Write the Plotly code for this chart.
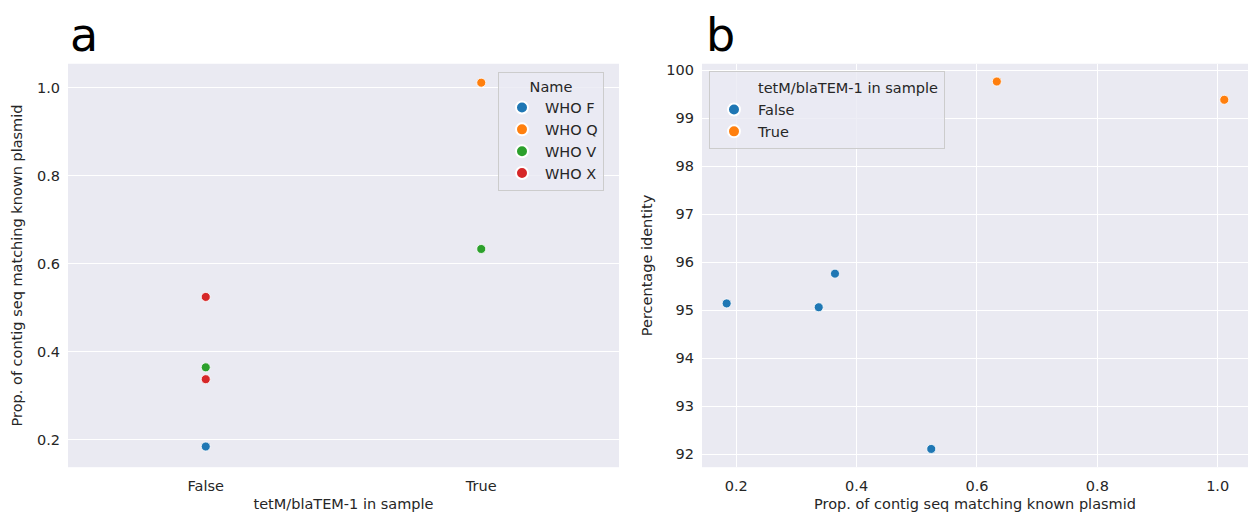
import plotly.graph_objects as go

# ---- data ----
names = ["WHO F", "WHO Q", "WHO V", "WHO V", "WHO X", "WHO X"]
in_sample = ["False", "True", "False", "True", "False", "False"]
prop = [0.184, 1.011, 0.364, 0.633, 0.337, 0.524]
identity = [95.14, 99.38, 95.76, 99.76, 95.06, 92.11]

name_order = ["WHO F", "WHO Q", "WHO V", "WHO X"]
sample_order = ["False", "True"]
palette = ["#1f77b4", "#ff7f0e", "#2ca02c", "#d62728"]

FONT = "DejaVu Sans"
BG = "#EAEAF2"
TXT = "#262626"
TICK = 14.5
TITLE = 14.5

fig = go.Figure()

# panel a: strip plot coloured by Name
for i, nm in enumerate(name_order):
    xs = [s for s, n in zip(in_sample, names) if n == nm]
    ys = [p for p, n in zip(prop, names) if n == nm]
    fig.add_trace(go.Scatter(
        x=xs, y=ys, mode="markers", name=nm,
        marker=dict(color=palette[i], size=9, line=dict(color="white", width=0.8)),
        xaxis="x", yaxis="y", legend="legend",
    ))

# panel b: scatter coloured by tetM/blaTEM-1 in sample
fig.add_trace(go.Scatter(
    x=[None], y=[None], mode="markers", name="tetM/blaTEM-1 in sample",
    marker=dict(color="rgba(0,0,0,0)", size=9),
    xaxis="x2", yaxis="y2", legend="legend2",
))
for i, s in enumerate(sample_order):
    xs = [p for p, v in zip(prop, in_sample) if v == s]
    ys = [d for d, v in zip(identity, in_sample) if v == s]
    fig.add_trace(go.Scatter(
        x=xs, y=ys, mode="markers", name=s,
        marker=dict(color=palette[i], size=9, line=dict(color="white", width=0.8)),
        xaxis="x2", yaxis="y2", legend="legend2",
    ))

W, H = 1250, 518
ydom = [1 - 467 / H, 1 - 62 / H]


def ax(**kw):
    d = dict(
        showgrid=True, gridcolor="white", gridwidth=1, zeroline=False,
        showline=False, ticks="", tickfont=dict(family=FONT, size=TICK, color=TXT),
    )
    d.update(kw)
    return d


fig.update_layout(
    width=W, height=H,
    margin=dict(l=0, r=0, t=0, b=0),
    paper_bgcolor="white", plot_bgcolor=BG,
    font=dict(family=FONT, size=TICK, color=TXT),
    xaxis=ax(
        domain=[68 / W, 619 / W], type="category",
        categoryorder="array", categoryarray=sample_order,
        range=[-0.5, 1.5], showgrid=False, ticklabelstandoff=8,
        title=dict(text="tetM/blaTEM-1 in sample", font=dict(family=FONT, size=TITLE), standoff=6),
        anchor="y",
    ),
    yaxis=ax(
        domain=ydom, range=[0.137, 1.054],
        tickvals=[0.2, 0.4, 0.6, 0.8, 1.0], ticktext=["0.2", "0.4", "0.6", "0.8", "1.0"],
        ticklabelstandoff=7,
        title=dict(text="Prop. of contig seq matching known plasmid", font=dict(family=FONT, size=TITLE), standoff=10),
        anchor="x",
    ),
    xaxis2=ax(
        domain=[702 / W, 1248 / W], range=[0.143, 1.0504],
        tickvals=[0.2, 0.4, 0.6, 0.8, 1.0], ticktext=["0.2", "0.4", "0.6", "0.8", "1.0"],
        ticklabelstandoff=8,
        title=dict(text="Prop. of contig seq matching known plasmid", font=dict(family=FONT, size=TITLE), standoff=6),
        anchor="y2",
    ),
    yaxis2=ax(
        domain=ydom, range=[91.73, 100.13],
        tickvals=[92, 93, 94, 95, 96, 97, 98, 99, 100],
        ticklabelstandoff=7,
        title=dict(text="Percentage identity", font=dict(family=FONT, size=TITLE), standoff=10),
        anchor="x2",
    ),
    legend=dict(
        x=604 / W, xanchor="right", y=1 - 70 / H, yanchor="top",
        bgcolor="rgba(234,234,242,0.8)", bordercolor="#cccccc", borderwidth=1,
        font=dict(family=FONT, size=14.5, color=TXT),
        title=dict(text="Name", side="top center", font=dict(family=FONT, size=14.5)),
        itemsizing="constant", itemwidth=36,
    ),
    legend2=dict(
        x=709 / W, xanchor="left", y=1 - 69 / H, yanchor="top",
        bgcolor="rgba(234,234,242,0.8)", bordercolor="#cccccc", borderwidth=1,
        font=dict(family=FONT, size=14.5, color=TXT),
        itemsizing="constant", itemwidth=38,
    ),
    annotations=[
        dict(text="a", x=68 / W, y=1 - 4 / H, xref="paper", yref="paper",
             xanchor="left", yanchor="top", showarrow=False,
             font=dict(family=FONT, size=46, color="black")),
        dict(text="b", x=704 / W, y=1 - 4 / H, xref="paper", yref="paper",
             xanchor="left", yanchor="top", showarrow=False,
             font=dict(family=FONT, size=46, color="black")),
    ],
)

fig.write_html("out.html")
